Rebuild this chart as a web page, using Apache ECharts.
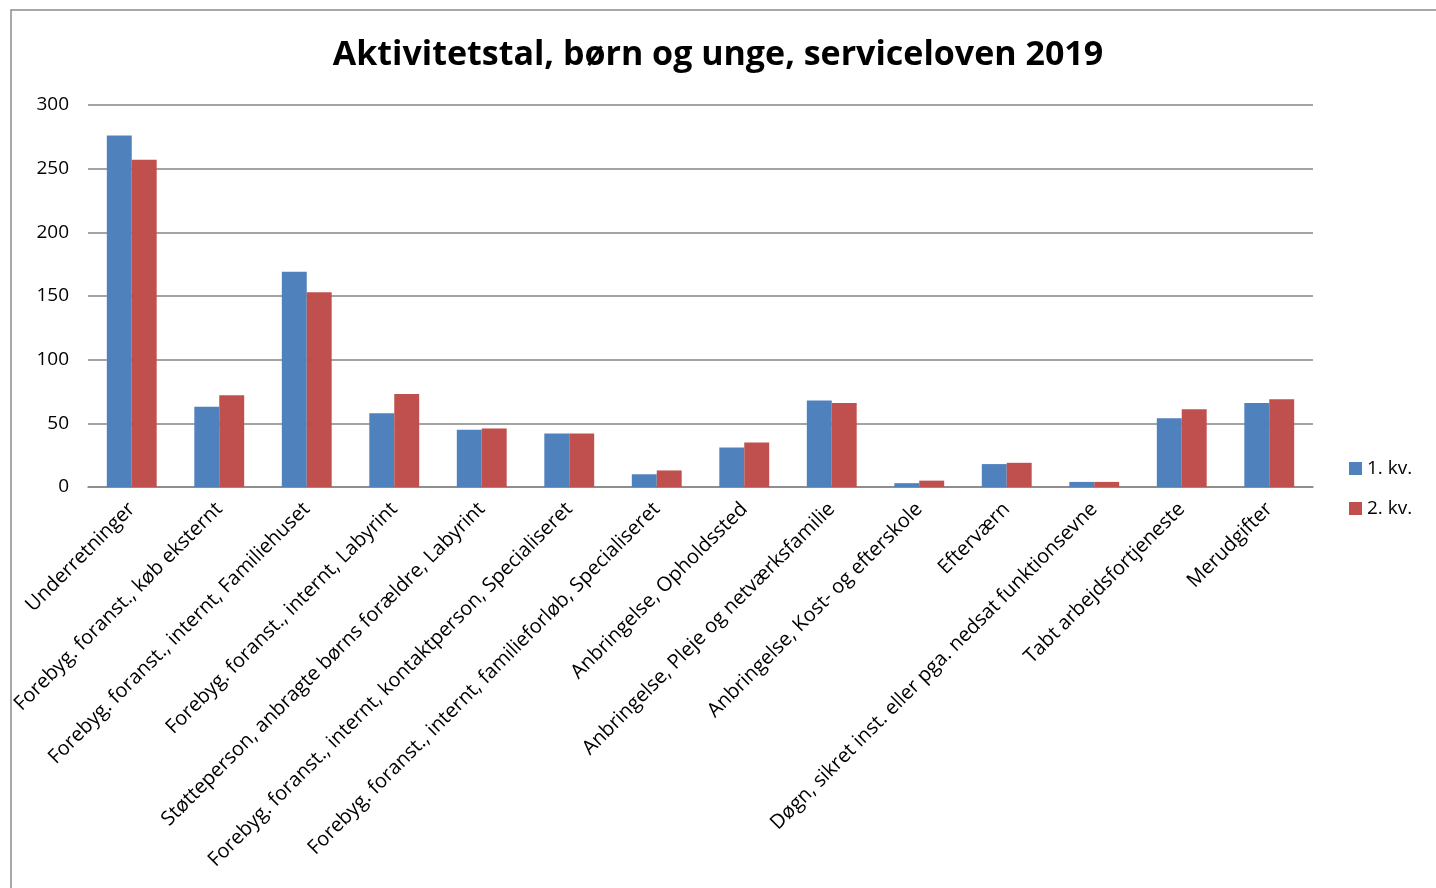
<!DOCTYPE html>
<html>
<head>
<meta charset="utf-8">
<script src="https://cdn.jsdelivr.net/npm/echarts@6/dist/echarts.min.js"></script>
<style>
html,body{margin:0;padding:0;background:#fff;}
#c{width:1436px;height:888px;}
</style>
</head>
<body>
<div id="c"></div>
<script>
const titleText = 'Aktivitetstal, børn og unge, serviceloven 2019';
const categories = [
  'Underretninger',
  'Forebyg. foranst., køb eksternt',
  'Forebyg. foranst., internt, Familiehuset',
  'Forebyg. foranst., internt, Labyrint',
  'Støtteperson, anbragte børns forældre, Labyrint',
  'Forebyg. foranst., internt, kontaktperson, Specialiseret',
  'Forebyg. foranst., internt, familieforløb, Specialiseret',
  'Anbringelse, Opholdssted',
  'Anbringelse, Pleje og netværksfamilie',
  'Anbringelse, Kost- og efterskole',
  'Efterværn',
  'Døgn, sikret inst. eller pga. nedsat funktionsevne',
  'Tabt arbejdsfortjeneste',
  'Merudgifter'
];
const seriesNames = ['1. kv.', '2. kv.'];
const q1 = [276, 63, 169, 58, 45, 42, 10, 31, 68, 3, 18, 4, 54, 66];
const q2 = [257, 72, 153, 73, 46, 42, 13, 35, 66, 5, 19, 4, 61, 69];
const yTicks = { min: 0, max: 300, interval: 50 };

const chart = echarts.init(document.getElementById('c'));
const font = 'Open Sans';
chart.setOption({
  backgroundColor: '#fff',
  animation: false,
  title: {
    text: titleText, left: 'center', top: 33,
    textStyle: { fontFamily: font, fontWeight: 'bold', fontSize: 34, color: '#000' }
  },
  graphic: [{
    type: 'rect', shape: { x: 11, y: 10, width: 1600, height: 1000 },
    style: { fill: 'none', stroke: '#8c8c8c', lineWidth: 1.5 }, silent: true, z: -1
  }],
  legend: {
    orient: 'vertical', left: 1344, top: 454, itemGap: 21,
    itemWidth: 13, itemHeight: 13, icon: 'rect',
    textStyle: { fontFamily: font, fontSize: 19, color: '#000' },
    data: seriesNames
  },
  grid: { left: 88, right: 123, top: 105, bottom: 401, containLabel: false },
  xAxis: {
    type: 'category', data: categories,
    axisLine: { lineStyle: { color: '#868686', width: 1.5 } },
    axisTick: { show: false },
    axisLabel: { rotate: 45, interval: 0, margin: 19, fontFamily: font, fontSize: 20, color: '#000' }
  },
  yAxis: {
    type: 'value', min: yTicks.min, max: yTicks.max, interval: yTicks.interval,
    axisLine: { show: false }, axisTick: { show: false },
    splitLine: { lineStyle: { color: '#868686', width: 1.5 } },
    axisLabel: { margin: 19, fontFamily: font, fontSize: 19, color: '#000' }
  },
  series: [
    { name: seriesNames[0], type: 'bar', data: q1, itemStyle: { color: '#4F81BD' }, barGap: '0%', barCategoryGap: '43%' },
    { name: seriesNames[1], type: 'bar', data: q2, itemStyle: { color: '#C0504D' }, barGap: '0%', barCategoryGap: '43%' }
  ]
});
</script>
</body>
</html>
